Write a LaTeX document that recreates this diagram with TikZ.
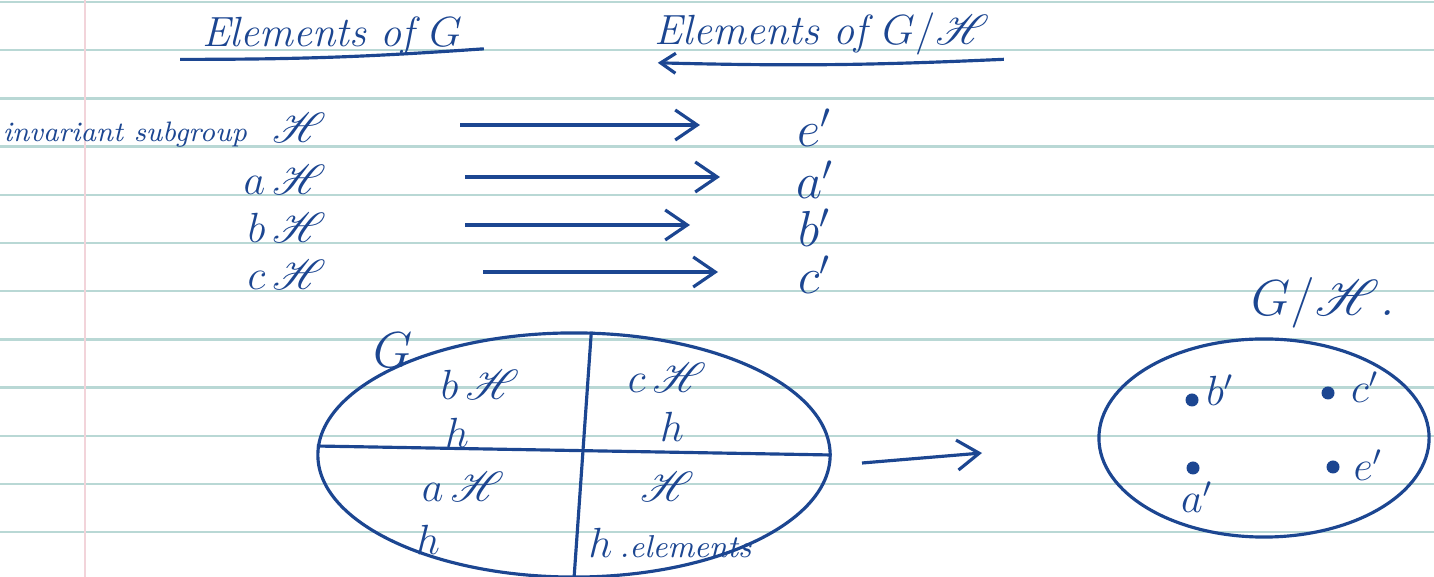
\documentclass[tikz,border=0pt]{standalone}
\usepackage{amsmath, amssymb}
\usepackage{mathrsfs}
\usepackage{tikz}
\usetikzlibrary{arrows.meta, positioning, shapes.geometric}
\definecolor{inkblue}{RGB}{28,70,145}
\definecolor{ruleteal}{RGB}{185,216,213}
\definecolor{marginpink}{RGB}{242,212,218}
\newcommand{\Hs}{\mathscr{H}}

\begin{document}
\begin{tikzpicture}[x=0.01cm, y=-0.01cm,
  ink/.style={draw=inkblue, line width=0.9pt},
  hand/.style={text=inkblue, font=\itshape\large, inner sep=1pt},
  arr/.style={ink, -{Straight Barb[length=2.2mm, width=3mm]}},
  dotpt/.style={circle, fill=inkblue, inner sep=0pt, minimum size=1.3mm}]
  \useasboundingbox (0,0) rectangle (1434,577);
  % ruled paper
  \foreach \k in {0,...,11}
    \draw[ruleteal, line width=0.7pt] (0,2+48.2*\k) -- (1434,2+48.2*\k);
  \draw[marginpink, line width=0.5pt] (85,0) -- (85,577);

  % titles
  \node[hand] (titleG) at (332,36) {Elements of $G$};
  \node[hand] (titleQ) at (822,34) {Elements of $G/\Hs$};
  \draw[ink] ([xshift=-5pt, yshift=0pt]titleG.south west)
    to[bend right=2] ([xshift=5pt, yshift=3pt]titleG.south east);
  \draw[ink, {Straight Barb[length=1.5mm, width=2mm]}-]
    ([xshift=2pt, yshift=-1pt]titleQ.south west)
    to[bend right=2] ([xshift=3pt, yshift=0pt]titleQ.south east);

  % cosets and their images
  \node[hand, font=\itshape\footnotesize] (invsub) at (125,135) {invariant subgroup};
  \foreach \i/\y/\p/\q/\s/\t in {1/128/{}/e/460/700, 2/180/a/a/465/720,
                                 3/228/b/b/465/690, 4/275/c/c/483/718}{
    \node[hand, anchor=east] (lhs\i) at (330,\y) {$\p\,\Hs$};
    \node[hand, font=\itshape\Large] (rhs\i) at (815,\y) {$\q'$};
    \coordinate (from\i) at (\s,\y-3);
    \coordinate (to\i) at (\t,\y-3);
    \draw[arr] (from\i) -- (to\i);
  }

  % the group G cut into cosets
  \node[ellipse, ink, minimum width=5.12cm, minimum height=2.44cm,
        inner sep=0pt] (Gset) at (574,455) {};
  \node[hand, font=\itshape\Large] (Glabel) at (393,350) {$G$};
  \draw[ink] (Gset.178) -- (Gset.east);
  \draw[ink] (Gset.82) -- (Gset.-90);
  \node[hand] (bq) at (480,385) {$b\,\Hs$};
  \node[hand] (bh) at (457,433) {$h$};
  \node[hand] (cq) at (667,378) {$c\,\Hs$};
  \node[hand] (ch) at (672,427) {$h$};
  \node[hand] (aq) at (463,487) {$a\,\Hs$};
  \node[hand] (ah) at (428,540) {$h$};
  \node[hand] (eq) at (667,487) {$\Hs$};
  \node[hand] (eh) at (670,543) {$h$\,{\small .elements}};

  \coordinate (mapfrom) at (862,463);
  \coordinate (mapto) at (982,453);
  \draw[arr] (mapfrom) -- (mapto);

  % the factor group
  \node[ellipse, ink, minimum width=3.3cm, minimum height=1.98cm,
        inner sep=0pt] (Qset) at (1264,438) {};
  \node[hand, font=\itshape\Large] (Qlabel) at (1323,303) {$G/\Hs$.};
  \foreach \n/\x/\y/\lx/\ly in {b/1192/400/1220/390, c/1328/393/1365/387,
                                a/1193/468/1197/497, e/1333/467/1368/465}{
    \node[dotpt] (dot\n) at (\x,\y) {};
    \node[hand] (lab\n) at (\lx,\ly) {$\n'$};
  }
\end{tikzpicture}
\end{document}
